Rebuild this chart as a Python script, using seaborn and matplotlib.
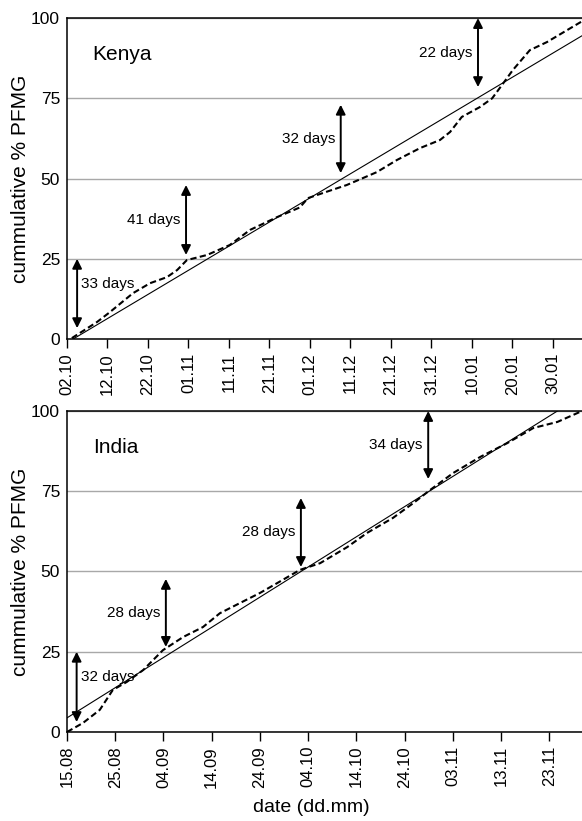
import matplotlib
matplotlib.use("Agg")
import matplotlib.pyplot as plt
import matplotlib.dates as mdates
import pandas as pd
import seaborn as sns

# Kenya: days since 02.10 and cumulative % PFMG (dashed = observed, solid = linear fit)
kenya_start = "2010-10-02"
kenya_days = [1.2, 7.4, 10.6, 16.3, 20.5, 24.7, 27.2, 29.6, 34.6, 40.2, 45.2, 51.9, 57.5,
              59.5, 63.2, 69.1, 76.5, 81.5, 87.2, 92.1, 94.6, 97.5, 102.0, 105.0, 107.4,
              110.1, 114.3, 118.5, 127.2]
kenya_pct = [0.3, 5.3, 8.4, 14.3, 17.4, 19.3, 21.5, 24.6, 26.2, 29.3, 34.0, 38.0, 41.0,
             43.9, 45.5, 48.0, 52.0, 55.8, 59.5, 62.0, 64.5, 69.2, 72.3, 75.0, 79.1,
             83.8, 90.0, 92.5, 99.0]
kenya_fit_days = [1.5, 127.2]
kenya_fit_pct = [0.0, 94.5]
kenya_end = 127.2
# arrows: day, lower %, upper %, label
kenya_arrows = [(2.5, 3.4, 25.0, "33 days"), (29.4, 26.2, 48.0, "41 days"),
                (67.6, 51.7, 73.0, "32 days"), (101.5, 78.5, 100.0, "22 days")]

# India
india_start = "2010-08-15"
india_days = [0.0, 3.3, 6.8, 9.5, 12.4, 15.8, 19.9, 24.1, 28.2, 31.7, 35.9, 40.0, 43.6,
              48.3, 52.5, 58.1, 62.2, 67.6, 71.8, 75.3, 80.1, 85.7, 91.3, 96.7, 101.7, 106.8]
india_pct = [0.0, 2.8, 6.9, 13.1, 15.6, 19.3, 25.5, 29.6, 32.7, 37.0, 40.2, 43.3, 46.4,
             50.5, 52.6, 57.6, 62.0, 66.7, 71.3, 75.4, 80.7, 85.7, 90.0, 94.7, 96.6, 100.0]
india_fit_days = [0.0, 106.8]
india_fit_pct = [4.4, 104.8]
india_end = 106.8
india_arrows = [(2.0, 3.1, 25.0, "32 days"), (20.5, 26.5, 47.7, "28 days"),
                (48.5, 51.4, 72.9, "28 days"), (74.9, 78.8, 100.0, "34 days")]

yticks = [0, 25, 50, 75, 100]

sns.set_style("white")
plt.rcParams["font.family"] = ["Liberation Sans", "DejaVu Sans"]
plt.rcParams.update({"text.color": "black", "axes.labelcolor": "black",
                     "xtick.color": "black", "ytick.color": "black"})


def to_dates(start, days):
    return pd.to_datetime(start) + pd.to_timedelta(days, unit="D")


def draw_panel(ax, name, start, days, pct, fit_days, fit_pct, end, arrows, nticks):
    obs = pd.DataFrame({"date": to_dates(start, days), "pct": pct})
    fit = pd.DataFrame({"date": to_dates(start, fit_days), "pct": fit_pct})
    sns.lineplot(data=fit, x="date", y="pct", ax=ax, color="black", linewidth=0.8)
    sns.lineplot(data=obs, x="date", y="pct", ax=ax, color="black", linewidth=1.5,
                 linestyle=(0, (3, 1.6)))

    for i, (d, lo, hi, label) in enumerate(arrows):
        x = to_dates(start, [d])[0]
        ax.annotate("", xy=(x, lo), xytext=(x, hi),
                    arrowprops=dict(arrowstyle="<|-|>", color="black", lw=1.4,
                                    mutation_scale=14, shrinkA=0, shrinkB=0))
        if i == 0:
            ax.annotate(label, xy=(x, (lo + hi) / 2 + 3), xytext=(3, 0),
                        textcoords="offset points", ha="left", va="center", fontsize=11)
        else:
            ax.annotate(label, xy=(x, (lo + hi) / 2), xytext=(-4, 0),
                        textcoords="offset points", ha="right", va="center", fontsize=11)

    ax.text(0.05, 0.885, name, transform=ax.transAxes, fontsize=15, va="center")

    ax.set_xlim(to_dates(start, [0])[0], to_dates(start, [end])[0])
    ax.set_ylim(0, 100)
    ax.set_yticks(yticks)
    ax.set_xticks(pd.date_range(start, periods=nticks, freq="10D"))
    ax.xaxis.set_major_formatter(mdates.DateFormatter("%d.%m"))
    ax.tick_params(axis="x", rotation=90, labelsize=12, length=6.5, width=1, direction="out",
                   bottom=True, color="black")
    ax.tick_params(axis="y", labelsize=12.5, length=0, pad=5)
    ax.yaxis.grid(True, color="#a8a8a8", linewidth=1)
    ax.set_axisbelow(True)
    ax.spines["right"].set_visible(False)
    for s in ["left", "bottom", "top"]:
        ax.spines[s].set_color("black")
        ax.spines[s].set_linewidth(1.1)
    ax.set_ylabel("cummulative % PFMG", fontsize=15, labelpad=1)
    ax.set_xlabel("")


fig = plt.figure(figsize=(5.82, 8.21), dpi=100)
ax1 = fig.add_axes([0.1151, 0.587, 0.885, 0.391])
ax2 = fig.add_axes([0.1151, 0.1084, 0.885, 0.391])

draw_panel(ax1, "Kenya", kenya_start, kenya_days, kenya_pct, kenya_fit_days, kenya_fit_pct,
           kenya_end, kenya_arrows, 13)
draw_panel(ax2, "India", india_start, india_days, india_pct, india_fit_days, india_fit_pct,
           india_end, india_arrows, 11)
ax2.set_xlabel("date (dd.mm)", fontsize=14)
ax2.xaxis.set_label_coords(0.475, -0.21)

fig.savefig("out.png", dpi=100)
